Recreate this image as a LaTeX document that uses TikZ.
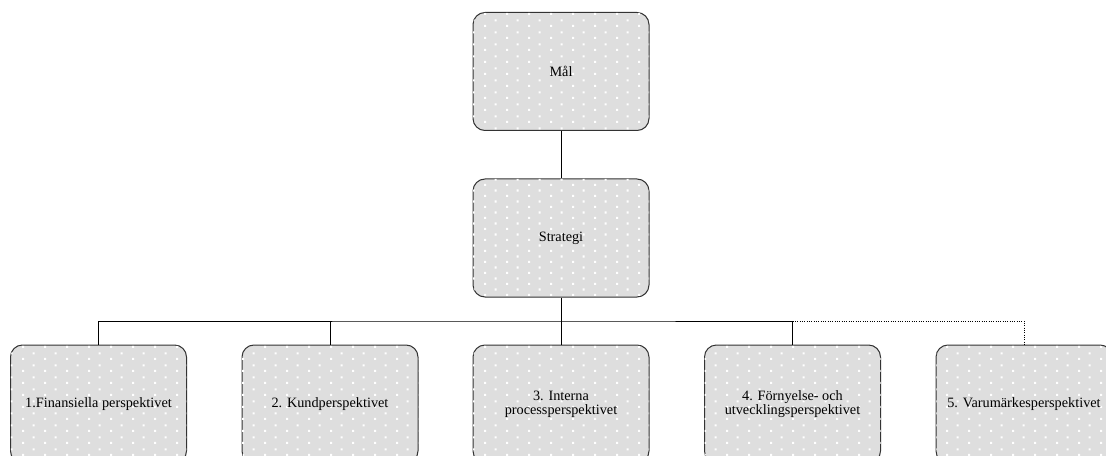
\documentclass[tikz,border=0pt]{standalone}
\usepackage{fontspec}
\setmainfont{Liberation Serif}
\usetikzlibrary{patterns.meta}

% staggered grid of small light dots laid over the grey box fill
\tikzdeclarepattern{
  name=boxdots,
  type=uncolored,
  bottom left={(0pt,0pt)},
  top right={(16.5pt,8.6pt)},
  tile size={(16.5pt,8.6pt)},
  code={
    \fill (0pt,0pt) rectangle (1.6pt,1.6pt);
    \fill (8.25pt,4.3pt) rectangle (9.85pt,5.9pt);
  }
}

\tikzset{
  card/.style={
    draw=black!80, line width=0.75pt, rounded corners=9pt,
    fill=black!13,
    postaction={pattern=boxdots, pattern color=white},
    minimum width=132pt, minimum height=88.5pt,
    align=center, font=\fontsize{10.7}{10.6}\selectfont
  },
  link/.style={draw=black, line width=0.75pt},
  optlink/.style={draw=black, line width=0.75pt, densely dotted}
}

\begin{document}
\begin{tikzpicture}[x=0.75pt, y=-0.75pt]
  \useasboundingbox (0,0) rectangle (1106,456);
  \clip (0,0) rectangle (1106,456);

  % top of the hierarchy
  \node[card] (goal)  at (561,71.5) {Mål};
  \node[card] (strat) at (561,238)  {Strategi};

  % the five perspectives
  \node[card] (p1) at (98.5,404) {1.Finansiella perspektivet};
  \node[card] (p2) at (330,404)  {2. Kundperspektivet};
  \node[card] (p3) at (561,404)  {3. Interna\\processperspektivet};
  \node[card] (p4) at (792.5,404){4. Förnyelse- och\\utvecklingsperspektivet};
  \node[card] (p5) at (1024,404) {5. Varumärkesperspektivet};

  % connectors
  \coordinate (bus) at (561,321);
  \draw[link] (goal.south) -- (strat.north);
  \draw[link] (strat.south) -- (p3.north);
  \draw[link] (p1.north) |- (bus) -| (p4.north);
  \draw[link] (p2.north) -- (p2.north |- bus);
  \draw[optlink] (p4.north |- bus) -| (p5.north);
\end{tikzpicture}
\end{document}
